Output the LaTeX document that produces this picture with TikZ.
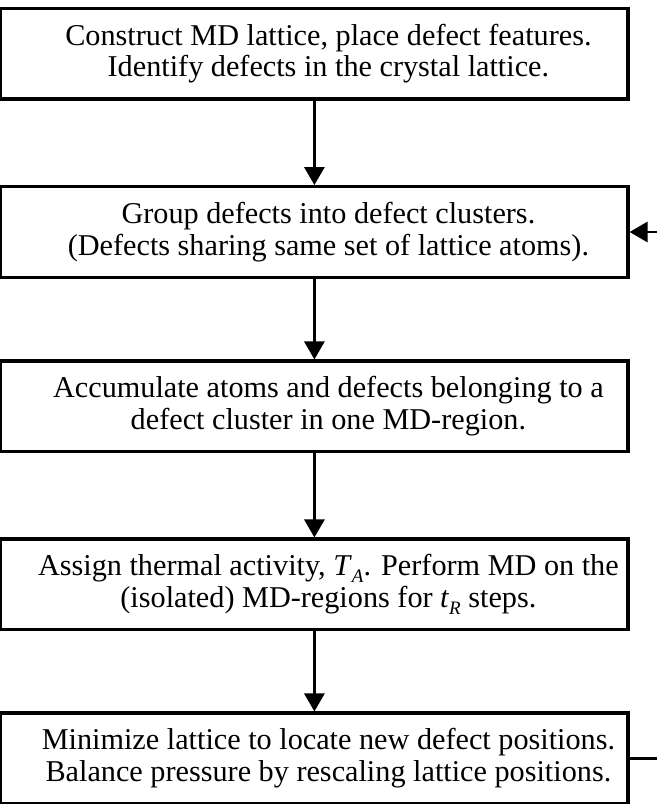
\documentclass[tikz,border=0pt]{standalone}
\usepackage{fontspec}
\setmainfont{Liberation Serif}
\usetikzlibrary{positioning, arrows.meta}

\newcommand{\sub}[1]{\raisebox{-0.5ex}{\fontsize{13.5}{13.5}\selectfont\textit{#1}}}

\begin{document}
\begin{tikzpicture}[
  stepbox/.style={rectangle, draw=black, line width=2.2pt,
    minimum width=15.68cm, minimum height=2.27cm, inner sep=0pt},
  steptext/.style={align=center, inner sep=0pt, xshift=0.35cm,
    font=\fontsize{21.5}{22.7}\selectfont},
  flow/.style={draw=black, line width=2.1pt, -{Triangle[length=0.45cm, width=0.5cm]}},
  >=Triangle
]
  %% --- geometria (unita': cm) ---
  \def\xc{7.86}      % centro orizzontale dei riquadri
  \useasboundingbox (0,0) rectangle (16.4,-20.1);

  %% --- riquadri ---
  \node[stepbox] (build)   at (\xc,-1.34)  {};
  \node[stepbox] (group)   at (\xc,-5.80)  {};
  \node[stepbox] (collect) at (\xc,-10.16) {};
  \node[stepbox] (thermal) at (\xc,-14.61) {};
  \node[stepbox] (relax)   at (\xc,-18.96) {};

  %% --- testi (leggermente spostati a destra come nell'originale) ---
  \node[steptext] (build-t)   at (build)
    {Construct MD lattice, place defect features.\\Identify defects in the crystal lattice.};
  \node[steptext] (group-t)   at (group)
    {Group defects into defect clusters.\\(Defects sharing same set of lattice atoms).};
  \node[steptext] (collect-t) at (collect)
    {Accumulate atoms and defects belonging to a\\defect cluster in one MD-region.};
  \node[steptext] (thermal-t) at (thermal)
    {Assign thermal activity, \textit{T}\sub{A}. Perform MD on the\\(isolated) MD-regions for \textit{t}\sub{R} steps.};
  \node[steptext] (relax-t)   at (relax)
    {Minimize lattice to locate new defect positions.\\Balance pressure by rescaling lattice positions.};

  %% --- frecce fra i passi ---
  \draw[flow] (build)   -- (group);
  \draw[flow] (group)   -- (collect);
  \draw[flow] (collect) -- (thermal);
  \draw[flow] (thermal) -- (relax);

  %% --- ritorno al raggruppamento (il tratto verticale esce dal riquadro) ---
  \coordinate (loop) at ([xshift=0.75cm]relax.east);
  \draw[flow] (relax.east) -- (loop) |- (group.east);
\end{tikzpicture}
\end{document}
